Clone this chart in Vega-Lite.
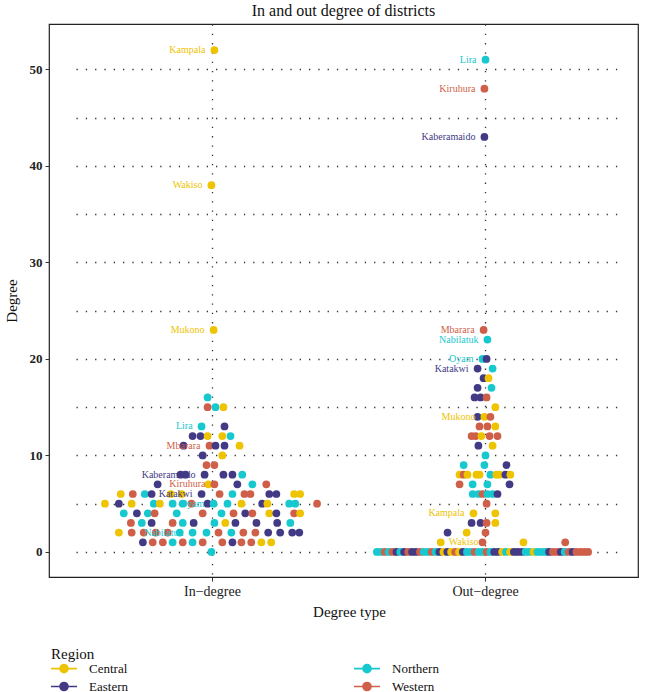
{
  "$schema": "https://vega.github.io/schema/vega-lite/v6.json",
  "width": 589,
  "height": 553,
  "autosize": {"type": "none"},
  "padding": {"left": 49, "top": 24, "right": 12, "bottom": 115},
  "config": {
    "font": "Liberation Serif",
    "view": {"stroke": "#222222", "strokeWidth": 1.2},
    "axis": {"labelFont": "Liberation Serif", "titleFont": "Liberation Serif", "labelColor": "#222222", "titleColor": "#111111", "tickColor": "#333333", "domain": false, "gridColor": "#333333", "gridDash": [1.3, 8], "gridWidth": 1.3},
    "legend": {"labelFont": "Liberation Serif", "titleFont": "Liberation Serif"}
  },
  "title": {"text": "In and out degree of districts", "fontSize": 16, "fontWeight": "normal", "font": "Liberation Serif", "anchor": "middle", "offset": 5, "color": "#111111"},
  "data": {"values": [
    {"type": "In-degree", "degree": 0, "region": "Northern", "offset": -0.004},
    {"type": "In-degree", "degree": 1, "region": "Eastern", "offset": -0.255},
    {"type": "In-degree", "degree": 1, "region": "Western", "offset": -0.219},
    {"type": "In-degree", "degree": 1, "region": "Western", "offset": -0.182},
    {"type": "In-degree", "degree": 1, "region": "Northern", "offset": -0.146},
    {"type": "In-degree", "degree": 1, "region": "Western", "offset": -0.109},
    {"type": "In-degree", "degree": 1, "region": "Northern", "offset": -0.073},
    {"type": "In-degree", "degree": 1, "region": "Western", "offset": -0.036},
    {"type": "In-degree", "degree": 1, "region": "Western", "offset": 0.036},
    {"type": "In-degree", "degree": 1, "region": "Eastern", "offset": 0.073},
    {"type": "In-degree", "degree": 1, "region": "Western", "offset": 0.106},
    {"type": "In-degree", "degree": 1, "region": "Western", "offset": 0.142},
    {"type": "In-degree", "degree": 1, "region": "Central", "offset": 0.179},
    {"type": "In-degree", "degree": 1, "region": "Central", "offset": 0.215},
    {"type": "In-degree", "degree": 2, "region": "Central", "offset": -0.343},
    {"type": "In-degree", "degree": 2, "region": "Western", "offset": -0.296},
    {"type": "In-degree", "degree": 2, "region": "Western", "offset": -0.252},
    {"type": "In-degree", "degree": 2, "region": "Western", "offset": -0.208},
    {"type": "In-degree", "degree": 2, "region": "Western", "offset": -0.164},
    {"type": "In-degree", "degree": 2, "region": "Northern", "offset": -0.120},
    {"type": "In-degree", "degree": 2, "region": "Northern", "offset": -0.073, "district": "Nabilatuk"},
    {"type": "In-degree", "degree": 2, "region": "Northern", "offset": -0.022},
    {"type": "In-degree", "degree": 2, "region": "Western", "offset": 0.022},
    {"type": "In-degree", "degree": 2, "region": "Northern", "offset": 0.069},
    {"type": "In-degree", "degree": 2, "region": "Western", "offset": 0.113},
    {"type": "In-degree", "degree": 2, "region": "Western", "offset": 0.157},
    {"type": "In-degree", "degree": 2, "region": "Eastern", "offset": 0.204},
    {"type": "In-degree", "degree": 2, "region": "Eastern", "offset": 0.248},
    {"type": "In-degree", "degree": 2, "region": "Eastern", "offset": 0.292},
    {"type": "In-degree", "degree": 2, "region": "Eastern", "offset": 0.318},
    {"type": "In-degree", "degree": 3, "region": "Western", "offset": -0.299},
    {"type": "In-degree", "degree": 3, "region": "Northern", "offset": -0.259},
    {"type": "In-degree", "degree": 3, "region": "Eastern", "offset": -0.223},
    {"type": "In-degree", "degree": 3, "region": "Western", "offset": -0.146},
    {"type": "In-degree", "degree": 3, "region": "Northern", "offset": -0.109},
    {"type": "In-degree", "degree": 3, "region": "Eastern", "offset": -0.069},
    {"type": "In-degree", "degree": 3, "region": "Northern", "offset": 0.007},
    {"type": "In-degree", "degree": 3, "region": "Central", "offset": 0.047},
    {"type": "In-degree", "degree": 3, "region": "Eastern", "offset": 0.084},
    {"type": "In-degree", "degree": 3, "region": "Eastern", "offset": 0.161},
    {"type": "In-degree", "degree": 3, "region": "Eastern", "offset": 0.237},
    {"type": "In-degree", "degree": 3, "region": "Northern", "offset": 0.285},
    {"type": "In-degree", "degree": 4, "region": "Northern", "offset": -0.325},
    {"type": "In-degree", "degree": 4, "region": "Eastern", "offset": -0.277},
    {"type": "In-degree", "degree": 4, "region": "Northern", "offset": -0.237},
    {"type": "In-degree", "degree": 4, "region": "Western", "offset": -0.212},
    {"type": "In-degree", "degree": 4, "region": "Northern", "offset": -0.131},
    {"type": "In-degree", "degree": 4, "region": "Western", "offset": -0.036},
    {"type": "In-degree", "degree": 4, "region": "Northern", "offset": 0.033},
    {"type": "In-degree", "degree": 4, "region": "Western", "offset": 0.077},
    {"type": "In-degree", "degree": 4, "region": "Eastern", "offset": 0.120},
    {"type": "In-degree", "degree": 4, "region": "Western", "offset": 0.146},
    {"type": "In-degree", "degree": 4, "region": "Central", "offset": 0.208},
    {"type": "In-degree", "degree": 4, "region": "Eastern", "offset": 0.234},
    {"type": "In-degree", "degree": 4, "region": "Western", "offset": 0.299},
    {"type": "In-degree", "degree": 4, "region": "Central", "offset": 0.321},
    {"type": "In-degree", "degree": 5, "region": "Central", "offset": -0.394},
    {"type": "In-degree", "degree": 5, "region": "Eastern", "offset": -0.343},
    {"type": "In-degree", "degree": 5, "region": "Central", "offset": -0.296},
    {"type": "In-degree", "degree": 5, "region": "Northern", "offset": -0.215},
    {"type": "In-degree", "degree": 5, "region": "Central", "offset": -0.193},
    {"type": "In-degree", "degree": 5, "region": "Northern", "offset": -0.146},
    {"type": "In-degree", "degree": 5, "region": "Northern", "offset": -0.109},
    {"type": "In-degree", "degree": 5, "region": "Western", "offset": -0.077},
    {"type": "In-degree", "degree": 5, "region": "Eastern", "offset": -0.018},
    {"type": "In-degree", "degree": 5, "region": "Northern", "offset": 0.004, "district": "Oyam"},
    {"type": "In-degree", "degree": 5, "region": "Northern", "offset": 0.055},
    {"type": "In-degree", "degree": 5, "region": "Central", "offset": 0.106},
    {"type": "In-degree", "degree": 5, "region": "Eastern", "offset": 0.182},
    {"type": "In-degree", "degree": 5, "region": "Central", "offset": 0.201},
    {"type": "In-degree", "degree": 5, "region": "Northern", "offset": 0.281},
    {"type": "In-degree", "degree": 5, "region": "Northern", "offset": 0.303},
    {"type": "In-degree", "degree": 5, "region": "Western", "offset": 0.383},
    {"type": "In-degree", "degree": 6, "region": "Central", "offset": -0.336},
    {"type": "In-degree", "degree": 6, "region": "Western", "offset": -0.292},
    {"type": "In-degree", "degree": 6, "region": "Northern", "offset": -0.248},
    {"type": "In-degree", "degree": 6, "region": "Eastern", "offset": -0.223},
    {"type": "In-degree", "degree": 6, "region": "Central", "offset": -0.153},
    {"type": "In-degree", "degree": 6, "region": "Central", "offset": -0.113},
    {"type": "In-degree", "degree": 6, "region": "Eastern", "offset": -0.040, "district": "Katakwi"},
    {"type": "In-degree", "degree": 6, "region": "Western", "offset": 0.026},
    {"type": "In-degree", "degree": 6, "region": "Northern", "offset": 0.073},
    {"type": "In-degree", "degree": 6, "region": "Western", "offset": 0.117},
    {"type": "In-degree", "degree": 6, "region": "Western", "offset": 0.139},
    {"type": "In-degree", "degree": 6, "region": "Eastern", "offset": 0.208},
    {"type": "In-degree", "degree": 6, "region": "Eastern", "offset": 0.234},
    {"type": "In-degree", "degree": 6, "region": "Central", "offset": 0.299},
    {"type": "In-degree", "degree": 6, "region": "Central", "offset": 0.321},
    {"type": "In-degree", "degree": 7, "region": "Eastern", "offset": -0.201},
    {"type": "In-degree", "degree": 7, "region": "Central", "offset": -0.015},
    {"type": "In-degree", "degree": 7, "region": "Western", "offset": 0.007, "district": "Kiruhura"},
    {"type": "In-degree", "degree": 7, "region": "Eastern", "offset": 0.091},
    {"type": "In-degree", "degree": 7, "region": "Northern", "offset": 0.146},
    {"type": "In-degree", "degree": 7, "region": "Western", "offset": 0.197},
    {"type": "In-degree", "degree": 8, "region": "Eastern", "offset": -0.117},
    {"type": "In-degree", "degree": 8, "region": "Eastern", "offset": -0.099},
    {"type": "In-degree", "degree": 8, "region": "Eastern", "offset": -0.029, "district": "Kaberamaido"},
    {"type": "In-degree", "degree": 8, "region": "Eastern", "offset": 0.040},
    {"type": "In-degree", "degree": 8, "region": "Eastern", "offset": 0.073},
    {"type": "In-degree", "degree": 8, "region": "Northern", "offset": 0.109},
    {"type": "In-degree", "degree": 9, "region": "Western", "offset": -0.022},
    {"type": "In-degree", "degree": 9, "region": "Western", "offset": 0.007},
    {"type": "In-degree", "degree": 10, "region": "Eastern", "offset": -0.036},
    {"type": "In-degree", "degree": 10, "region": "Central", "offset": 0.036},
    {"type": "In-degree", "degree": 11, "region": "Eastern", "offset": -0.106},
    {"type": "In-degree", "degree": 11, "region": "Western", "offset": -0.011, "district": "Mbarara"},
    {"type": "In-degree", "degree": 11, "region": "Eastern", "offset": 0.011},
    {"type": "In-degree", "degree": 11, "region": "Eastern", "offset": 0.044},
    {"type": "In-degree", "degree": 11, "region": "Central", "offset": 0.099},
    {"type": "In-degree", "degree": 12, "region": "Eastern", "offset": -0.073},
    {"type": "In-degree", "degree": 12, "region": "Eastern", "offset": -0.044},
    {"type": "In-degree", "degree": 12, "region": "Central", "offset": -0.018},
    {"type": "In-degree", "degree": 12, "region": "Central", "offset": 0.036},
    {"type": "In-degree", "degree": 12, "region": "Northern", "offset": 0.066},
    {"type": "In-degree", "degree": 13, "region": "Northern", "offset": -0.040, "district": "Lira"},
    {"type": "In-degree", "degree": 13, "region": "Eastern", "offset": 0.044},
    {"type": "In-degree", "degree": 15, "region": "Western", "offset": -0.018},
    {"type": "In-degree", "degree": 15, "region": "Northern", "offset": 0.011},
    {"type": "In-degree", "degree": 15, "region": "Central", "offset": 0.040},
    {"type": "In-degree", "degree": 16, "region": "Northern", "offset": -0.018},
    {"type": "In-degree", "degree": 23, "region": "Central", "offset": 0.004, "district": "Mukono"},
    {"type": "In-degree", "degree": 38, "region": "Central", "offset": -0.004, "district": "Wakiso"},
    {"type": "In-degree", "degree": 52, "region": "Central", "offset": 0.007, "district": "Kampala"},
    {"type": "Out-degree", "degree": 51, "region": "Northern", "offset": 0.0, "district": "Lira"},
    {"type": "Out-degree", "degree": 48, "region": "Western", "offset": -0.004, "district": "Kiruhura"},
    {"type": "Out-degree", "degree": 43, "region": "Eastern", "offset": -0.004, "district": "Kaberamaido"},
    {"type": "Out-degree", "degree": 23, "region": "Western", "offset": -0.007, "district": "Mbarara"},
    {"type": "Out-degree", "degree": 22, "region": "Northern", "offset": 0.007, "district": "Nabilatuk"},
    {"type": "Out-degree", "degree": 20, "region": "Northern", "offset": -0.011, "district": "Oyam"},
    {"type": "Out-degree", "degree": 20, "region": "Eastern", "offset": 0.004},
    {"type": "Out-degree", "degree": 19, "region": "Eastern", "offset": -0.029, "district": "Katakwi"},
    {"type": "Out-degree", "degree": 19, "region": "Northern", "offset": 0.026},
    {"type": "Out-degree", "degree": 18, "region": "Eastern", "offset": -0.007},
    {"type": "Out-degree", "degree": 18, "region": "Central", "offset": 0.011},
    {"type": "Out-degree", "degree": 17, "region": "Eastern", "offset": -0.029},
    {"type": "Out-degree", "degree": 17, "region": "Northern", "offset": 0.022},
    {"type": "Out-degree", "degree": 16, "region": "Eastern", "offset": -0.040},
    {"type": "Out-degree", "degree": 16, "region": "Eastern", "offset": -0.018},
    {"type": "Out-degree", "degree": 16, "region": "Western", "offset": 0.004},
    {"type": "Out-degree", "degree": 15, "region": "Central", "offset": 0.036},
    {"type": "Out-degree", "degree": 14, "region": "Eastern", "offset": -0.029},
    {"type": "Out-degree", "degree": 14, "region": "Central", "offset": -0.004, "district": "Mukono"},
    {"type": "Out-degree", "degree": 14, "region": "Western", "offset": 0.018},
    {"type": "Out-degree", "degree": 13, "region": "Western", "offset": -0.022},
    {"type": "Out-degree", "degree": 13, "region": "Western", "offset": 0.007},
    {"type": "Out-degree", "degree": 13, "region": "Central", "offset": 0.036},
    {"type": "Out-degree", "degree": 12, "region": "Western", "offset": -0.051},
    {"type": "Out-degree", "degree": 12, "region": "Western", "offset": -0.036},
    {"type": "Out-degree", "degree": 12, "region": "Central", "offset": -0.015},
    {"type": "Out-degree", "degree": 12, "region": "Western", "offset": 0.015},
    {"type": "Out-degree", "degree": 12, "region": "Western", "offset": 0.044},
    {"type": "Out-degree", "degree": 11, "region": "Eastern", "offset": -0.026},
    {"type": "Out-degree", "degree": 11, "region": "Central", "offset": 0.026},
    {"type": "Out-degree", "degree": 10, "region": "Northern", "offset": 0.0},
    {"type": "Out-degree", "degree": 9, "region": "Northern", "offset": -0.080},
    {"type": "Out-degree", "degree": 9, "region": "Northern", "offset": -0.004},
    {"type": "Out-degree", "degree": 9, "region": "Eastern", "offset": 0.077},
    {"type": "Out-degree", "degree": 8, "region": "Central", "offset": -0.095},
    {"type": "Out-degree", "degree": 8, "region": "Western", "offset": -0.080},
    {"type": "Out-degree", "degree": 8, "region": "Central", "offset": -0.066},
    {"type": "Out-degree", "degree": 8, "region": "Central", "offset": -0.033},
    {"type": "Out-degree", "degree": 8, "region": "Central", "offset": -0.022},
    {"type": "Out-degree", "degree": 8, "region": "Northern", "offset": 0.018},
    {"type": "Out-degree", "degree": 8, "region": "Central", "offset": 0.040},
    {"type": "Out-degree", "degree": 8, "region": "Central", "offset": 0.051},
    {"type": "Out-degree", "degree": 8, "region": "Eastern", "offset": 0.073},
    {"type": "Out-degree", "degree": 8, "region": "Central", "offset": 0.091},
    {"type": "Out-degree", "degree": 7, "region": "Western", "offset": -0.095},
    {"type": "Out-degree", "degree": 7, "region": "Northern", "offset": -0.047},
    {"type": "Out-degree", "degree": 7, "region": "Northern", "offset": 0.007},
    {"type": "Out-degree", "degree": 7, "region": "Eastern", "offset": 0.088},
    {"type": "Out-degree", "degree": 6, "region": "Northern", "offset": -0.047},
    {"type": "Out-degree", "degree": 6, "region": "Northern", "offset": -0.026},
    {"type": "Out-degree", "degree": 6, "region": "Western", "offset": -0.011},
    {"type": "Out-degree", "degree": 6, "region": "Northern", "offset": 0.007},
    {"type": "Out-degree", "degree": 6, "region": "Northern", "offset": 0.026},
    {"type": "Out-degree", "degree": 6, "region": "Eastern", "offset": 0.044},
    {"type": "Out-degree", "degree": 5, "region": "Western", "offset": 0.004},
    {"type": "Out-degree", "degree": 4, "region": "Central", "offset": -0.044, "district": "Kampala"},
    {"type": "Out-degree", "degree": 4, "region": "Central", "offset": 0.036},
    {"type": "Out-degree", "degree": 3, "region": "Eastern", "offset": -0.051},
    {"type": "Out-degree", "degree": 3, "region": "Eastern", "offset": -0.018},
    {"type": "Out-degree", "degree": 3, "region": "Western", "offset": 0.004},
    {"type": "Out-degree", "degree": 3, "region": "Central", "offset": 0.036},
    {"type": "Out-degree", "degree": 2, "region": "Eastern", "offset": -0.139},
    {"type": "Out-degree", "degree": 2, "region": "Central", "offset": -0.069},
    {"type": "Out-degree", "degree": 2, "region": "Western", "offset": 0.0},
    {"type": "Out-degree", "degree": 1, "region": "Central", "offset": -0.164, "district": "Wakiso"},
    {"type": "Out-degree", "degree": 1, "region": "Western", "offset": -0.011},
    {"type": "Out-degree", "degree": 1, "region": "Central", "offset": 0.139},
    {"type": "Out-degree", "degree": 1, "region": "Western", "offset": 0.292},
    {"type": "Out-degree", "degree": 0, "region": "Northern", "offset": -0.398},
    {"type": "Out-degree", "degree": 0, "region": "Northern", "offset": -0.384},
    {"type": "Out-degree", "degree": 0, "region": "Western", "offset": -0.369},
    {"type": "Out-degree", "degree": 0, "region": "Northern", "offset": -0.355},
    {"type": "Out-degree", "degree": 0, "region": "Western", "offset": -0.341},
    {"type": "Out-degree", "degree": 0, "region": "Eastern", "offset": -0.326},
    {"type": "Out-degree", "degree": 0, "region": "Northern", "offset": -0.312},
    {"type": "Out-degree", "degree": 0, "region": "Eastern", "offset": -0.298},
    {"type": "Out-degree", "degree": 0, "region": "Western", "offset": -0.283},
    {"type": "Out-degree", "degree": 0, "region": "Eastern", "offset": -0.269},
    {"type": "Out-degree", "degree": 0, "region": "Eastern", "offset": -0.255},
    {"type": "Out-degree", "degree": 0, "region": "Western", "offset": -0.240},
    {"type": "Out-degree", "degree": 0, "region": "Northern", "offset": -0.226},
    {"type": "Out-degree", "degree": 0, "region": "Northern", "offset": -0.212},
    {"type": "Out-degree", "degree": 0, "region": "Western", "offset": -0.197},
    {"type": "Out-degree", "degree": 0, "region": "Northern", "offset": -0.183},
    {"type": "Out-degree", "degree": 0, "region": "Eastern", "offset": -0.169},
    {"type": "Out-degree", "degree": 0, "region": "Central", "offset": -0.154},
    {"type": "Out-degree", "degree": 0, "region": "Eastern", "offset": -0.140},
    {"type": "Out-degree", "degree": 0, "region": "Central", "offset": -0.126},
    {"type": "Out-degree", "degree": 0, "region": "Western", "offset": -0.111},
    {"type": "Out-degree", "degree": 0, "region": "Central", "offset": -0.097},
    {"type": "Out-degree", "degree": 0, "region": "Eastern", "offset": -0.083},
    {"type": "Out-degree", "degree": 0, "region": "Northern", "offset": -0.068},
    {"type": "Out-degree", "degree": 0, "region": "Northern", "offset": -0.054},
    {"type": "Out-degree", "degree": 0, "region": "Western", "offset": -0.040},
    {"type": "Out-degree", "degree": 0, "region": "Northern", "offset": -0.025},
    {"type": "Out-degree", "degree": 0, "region": "Northern", "offset": -0.011},
    {"type": "Out-degree", "degree": 0, "region": "Western", "offset": 0.004},
    {"type": "Out-degree", "degree": 0, "region": "Northern", "offset": 0.018},
    {"type": "Out-degree", "degree": 0, "region": "Eastern", "offset": 0.032},
    {"type": "Out-degree", "degree": 0, "region": "Eastern", "offset": 0.047},
    {"type": "Out-degree", "degree": 0, "region": "Central", "offset": 0.061},
    {"type": "Out-degree", "degree": 0, "region": "Northern", "offset": 0.075},
    {"type": "Out-degree", "degree": 0, "region": "Central", "offset": 0.090},
    {"type": "Out-degree", "degree": 0, "region": "Eastern", "offset": 0.104},
    {"type": "Out-degree", "degree": 0, "region": "Eastern", "offset": 0.118},
    {"type": "Out-degree", "degree": 0, "region": "Eastern", "offset": 0.133},
    {"type": "Out-degree", "degree": 0, "region": "Northern", "offset": 0.147},
    {"type": "Out-degree", "degree": 0, "region": "Northern", "offset": 0.161},
    {"type": "Out-degree", "degree": 0, "region": "Central", "offset": 0.176},
    {"type": "Out-degree", "degree": 0, "region": "Northern", "offset": 0.190},
    {"type": "Out-degree", "degree": 0, "region": "Northern", "offset": 0.204},
    {"type": "Out-degree", "degree": 0, "region": "Northern", "offset": 0.219},
    {"type": "Out-degree", "degree": 0, "region": "Eastern", "offset": 0.233},
    {"type": "Out-degree", "degree": 0, "region": "Western", "offset": 0.247},
    {"type": "Out-degree", "degree": 0, "region": "Western", "offset": 0.262},
    {"type": "Out-degree", "degree": 0, "region": "Eastern", "offset": 0.276},
    {"type": "Out-degree", "degree": 0, "region": "Northern", "offset": 0.290},
    {"type": "Out-degree", "degree": 0, "region": "Western", "offset": 0.305},
    {"type": "Out-degree", "degree": 0, "region": "Eastern", "offset": 0.319},
    {"type": "Out-degree", "degree": 0, "region": "Western", "offset": 0.333},
    {"type": "Out-degree", "degree": 0, "region": "Western", "offset": 0.348},
    {"type": "Out-degree", "degree": 0, "region": "Western", "offset": 0.362},
    {"type": "Out-degree", "degree": 0, "region": "Western", "offset": 0.376}
  ]},
  "encoding": {
    "x": {
      "field": "type", "type": "nominal",
      "scale": {"domain": ["In-degree", "Out-degree"], "range": [27, 573], "paddingInner": 0, "paddingOuter": 0},
      "axis": {"title": "Degree type", "titleFontSize": 15, "titleFontWeight": "normal", "titlePadding": 6, "labelFontSize": 14, "labelAngle": 0, "labelPadding": 3, "labelExpr": "replace(datum.label, '-', '\u2212')", "grid": true, "bandPosition": 0.5, "ticks": true, "tickSize": 4}
    },
    "xOffset": {"field": "offset", "type": "quantitative", "scale": {"domain": [-0.5, 0.5], "range": [0, 273]}},
    "y": {
      "field": "degree", "type": "quantitative",
      "scale": {"domain": [-2.6, 54.7], "nice": false, "zero": false},
      "axis": {"title": "Degree", "titleFontSize": 15, "titleFontWeight": "normal", "titlePadding": 10, "labelFontSize": 13, "labelFontWeight": "bold", "labelPadding": 3, "values": [0, 5, 10, 15, 20, 25, 30, 35, 40, 45, 50], "labelExpr": "datum.value % 10 === 0 ? datum.label : ''", "tickSize": 4, "tickOpacity": {"condition": {"test": "datum.value % 10 !== 0", "value": 0}, "value": 1}, "grid": true}
    },
    "color": {
      "field": "region", "type": "nominal",
      "scale": {"domain": ["Central", "Northern", "Eastern", "Western"], "range": ["#EEC300", "#17C8CF", "#433A86", "#CF5F48"]},
      "legend": {
        "title": "Region", "orient": "none", "legendX": 2, "legendY": 623, "columns": 2, "direction": "horizontal",
        "titleFontSize": 15, "titleFontWeight": "normal", "titleColor": "#111111", "titlePadding": 0,
        "labelFontSize": 13, "labelColor": "#111111", "labelOffset": 25,
        "symbolType": "M-1.3,0L3.9,0M0.5,0A0.8,0.8 0 1,1 2.1,0A0.8,0.8 0 1,1 0.5,0Z",
        "symbolSize": 100, "symbolStrokeWidth": 1.6, "symbolOpacity": 1,
        "rowPadding": 3, "columnPadding": 222,
        "encode": {"symbols": {"update": {"stroke": {"scale": "color", "field": "value"}, "strokeWidth": {"value": 1.6}}}}
      }
    }
  },
  "layer": [
    {"mark": {"type": "circle", "size": 60, "opacity": 1}},
    {
      "transform": [{"filter": "datum.district != null && !(datum.type === 'Out-degree' && datum.district === 'Wakiso')"}],
      "mark": {"type": "text", "align": "right", "baseline": "middle", "dx": -9, "fontSize": 10, "font": "Liberation Serif"},
      "encoding": {"text": {"field": "district"}, "color": {"field": "region", "type": "nominal", "legend": null}}
    },
    {
      "transform": [{"filter": "datum.type === 'Out-degree' && datum.district === 'Wakiso'"}],
      "mark": {"type": "text", "align": "left", "baseline": "middle", "dx": 8, "fontSize": 10, "font": "Liberation Serif"},
      "encoding": {"text": {"field": "district"}, "color": {"field": "region", "type": "nominal", "legend": null}}
    }
  ]
}
